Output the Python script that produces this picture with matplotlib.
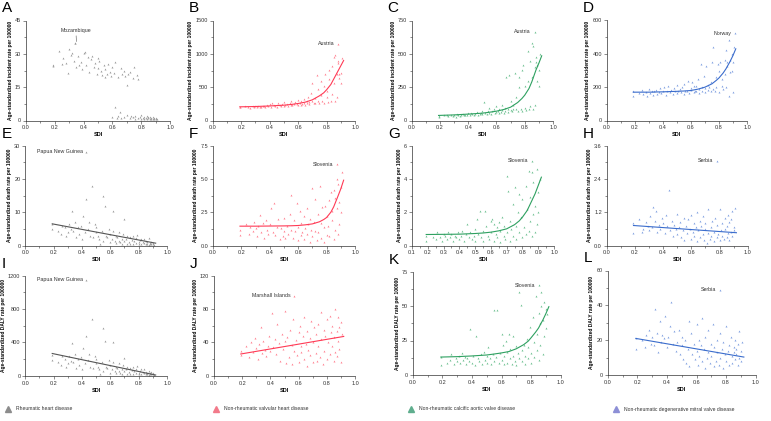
import matplotlib
matplotlib.use("Agg")
import matplotlib.pyplot as plt
from matplotlib.ticker import AutoMinorLocator
from matplotlib.lines import Line2D

plt.rcParams['font.family'] = ['Liberation Sans', 'DejaVu Sans']

# SDI of each location (shared by all panels)
sdi = [0.19, 0.19, 0.23, 0.25, 0.26, 0.28, 0.29, 0.30, 0.31, 0.32, 0.33, 0.34, 0.35, 0.36, 0.37,
       0.38, 0.39, 0.40, 0.41, 0.42, 0.43, 0.44, 0.45, 0.46, 0.47, 0.48, 0.49, 0.50, 0.50, 0.51,
       0.52, 0.53, 0.54, 0.55, 0.55, 0.56, 0.57, 0.58, 0.59, 0.60, 0.60, 0.61, 0.62, 0.62, 0.63,
       0.64, 0.64, 0.65, 0.66, 0.66, 0.67, 0.68, 0.68, 0.69, 0.70, 0.70, 0.71, 0.72, 0.72, 0.73,
       0.74, 0.74, 0.75, 0.76, 0.76, 0.77, 0.78, 0.78, 0.79, 0.80, 0.80, 0.81, 0.82, 0.82, 0.83,
       0.84, 0.84, 0.85, 0.85, 0.86, 0.86, 0.87, 0.87, 0.88, 0.88, 0.89, 0.89, 0.90, 0.90, 0.91]

# incidence
inc_rhd = [25.0, 24.5, 31.5, 25.5, 28.0, 26.0, 21.5, 32.0, 29.5, 30.5, 27.0, 35.0, 24.0, 29.0, 25.0,
           26.5, 23.0, 30.5, 31.0, 25.0, 28.5, 22.0, 27.5, 29.0, 24.0, 26.0, 21.0, 28.0, 23.5, 27.0,
           22.5, 20.5, 25.0, 19.5, 23.0, 21.0, 25.5, 22.0, 20.0, 1.5, 24.0, 21.5, 26.5, 6.0, 1.0,
           19.5, 2.0, 4.0, 23.5, 1.2, 21.0, 22.5, 1.8, 20.0, 16.0, 2.5, 21.0, 1.0, 22.0, 2.2,
           19.0, 1.5, 24.0, 0.8, 2.0, 20.5, 1.2, 18.5, 1.6, 0.9, 2.4, 1.1, 1.8, 0.6, 1.3,
           2.0, 0.7, 1.5, 1.0, 0.9, 1.7, 0.5, 1.2, 0.8, 1.4, 0.6, 1.1, 0.9, 1.3, 0.7]
inc_nrvhd = [205, 200, 215, 210, 195, 220, 205, 215, 200, 225, 210, 205, 215, 220, 200,
             230, 215, 250, 210, 270, 240, 225, 205, 260, 230, 215, 245, 220, 280, 235,
             250, 225, 270, 240, 300, 230, 255, 280, 245, 235, 310, 260, 240, 290, 250,
             265, 330, 240, 290, 260, 350, 280, 250, 420, 300, 560, 260, 340, 270, 680,
             300, 480, 260, 380, 600, 290, 520, 270, 700, 350, 440, 280, 620, 760, 300,
             820, 400, 950, 560, 290, 980, 700, 350, 900, 860, 700, 640, 720, 560, 940]
inc_cavd = [35, 30, 40, 38, 32, 45, 36, 42, 30, 48, 40, 35, 44, 50, 38,
            45, 40, 55, 42, 60, 48, 38, 52, 65, 44, 50, 58, 46, 70, 140,
            55, 48, 75, 60, 95, 52, 68, 85, 58, 62, 110, 72, 55, 90, 65,
            80, 120, 60, 95, 70, 330, 88, 65, 340, 78, 150, 70, 120, 85, 360,
            90, 180, 75, 330, 250, 88, 380, 70, 420, 95, 260, 80, 300, 520, 90,
            450, 110, 580, 330, 85, 560, 400, 120, 480, 440, 420, 300, 380, 260, 500]
inc_dmvd = [150, 175, 165, 185, 160, 170, 150, 190, 165, 180, 155, 175, 185, 160, 170,
            195, 165, 180, 200, 155, 175, 210, 170, 185, 160, 195, 175, 215, 165, 180,
            190, 170, 200, 160, 220, 180, 175, 240, 165, 195, 185, 230, 170, 205, 180,
            210, 175, 250, 190, 165, 340, 200, 180, 270, 170, 195, 330, 185, 215, 200,
            175, 230, 350, 190, 440, 180, 260, 200, 340, 170, 300, 350, 210, 250, 190,
            360, 280, 420, 200, 330, 350, 150, 480, 360, 290, 300, 400, 170, 350, 440]

# deaths
dth_rhd = [5.0, 6.5, 4.5, 3.5, 6.0, 5.5, 3.0, 4.0, 6.5, 5.0, 10.5, 4.5, 7.0, 2.5, 5.5,
           3.5, 6.0, 2.0, 9.0, 4.0, 14.0, 5.0, 7.0, 3.0, 18.0, 2.5, 6.5, 4.0, 5.5, 3.0,
           2.0, 0.5, 4.5, 15.0, 1.5, 12.0, 3.0, 2.5, 5.0, 1.0, 3.5, 2.0, 4.5, 10.5, 1.5,
           3.0, 0.8, 2.5, 1.5, 4.0, 1.0, 2.0, 0.6, 3.5, 8.0, 1.5, 2.0, 0.5, 3.0, 1.2,
           2.5, 0.4, 1.8, 3.0, 0.6, 1.5, 2.2, 0.8, 3.2, 1.0, 0.5, 1.6, 2.0, 0.4, 1.2,
           0.8, 2.0, 0.5, 1.4, 0.6, 1.0, 2.4, 0.3, 0.9, 0.5, 1.2, 0.4, 0.8, 0.6, 0.3]
dth_nrvhd = [0.8, 1.2, 1.6, 0.9, 1.4, 1.1, 1.8, 1.3, 0.7, 1.5, 2.3, 1.0, 1.7, 0.6, 1.9,
             1.2, 0.9, 1.6, 2.8, 1.0, 3.2, 0.8, 1.4, 2.0, 0.5, 1.3, 0.7, 2.1, 1.1, 0.6,
             1.5, 0.9, 2.4, 1.2, 3.8, 0.6, 1.9, 1.1, 3.2, 0.4, 1.4, 2.6, 0.8, 1.7, 1.0,
             2.2, 0.5, 1.3, 2.8, 0.9, 1.6, 0.3, 2.0, 1.2, 4.3, 0.7, 1.8, 3.5, 1.1, 0.4,
             2.4, 1.0, 4.5, 0.6, 1.7, 2.9, 0.3, 1.4, 3.0, 0.8, 2.2, 1.5, 3.4, 0.7, 4.0,
             1.9, 2.6, 0.5, 4.2, 3.6, 1.2, 5.0, 2.8, 4.6, 0.9, 3.3, 1.6, 4.4, 2.5, 5.5]
dth_cavd = [0.3, 0.6, 0.5, 0.4, 0.8, 0.5, 0.3, 0.7, 0.6, 0.4, 0.8, 0.5, 0.7, 0.3, 0.6,
            0.5, 0.8, 0.4, 0.6, 0.9, 0.3, 0.7, 1.3, 0.5, 0.8, 0.4, 0.6, 1.0, 0.3, 1.6,
            0.7, 2.1, 0.5, 0.9, 0.3, 2.1, 1.2, 0.6, 0.4, 1.5, 0.8, 1.6, 0.3, 1.3, 0.7,
            1.1, 0.5, 1.4, 0.2, 0.9, 1.7, 0.6, 1.2, 0.4, 4.2, 0.8, 3.3, 1.5, 0.3, 1.0,
            2.5, 0.6, 3.5, 1.2, 0.4, 2.0, 3.1, 0.8, 1.7, 0.5, 2.8, 1.1, 3.6, 0.7, 2.2,
            0.9, 4.5, 1.5, 2.9, 0.6, 4.4, 1.9, 3.8, 0.8, 2.4, 4.6, 1.3, 3.2, 2.0, 4.0]
dth_dmvd = [0.45, 0.8, 0.95, 0.5, 0.6, 0.85, 0.7, 0.55, 1.05, 0.65, 1.4, 0.9, 1.25, 0.5, 0.75,
            0.6, 1.0, 0.8, 0.45, 1.1, 0.7, 2.0, 0.55, 0.9, 0.35, 0.75, 0.6, 1.15, 0.4, 0.65,
            0.85, 0.3, 0.55, 1.0, 0.2, 0.7, 0.45, 0.95, 0.6, 0.25, 1.1, 0.5, 0.8, 0.35, 0.65,
            1.2, 0.15, 0.55, 0.9, 0.3, 0.7, 0.4, 1.05, 0.2, 0.6, 0.8, 0.1, 1.3, 0.45, 0.25,
            0.65, 0.35, 0.9, 0.15, 0.5, 1.0, 0.3, 0.75, 0.4, 0.2, 1.3, 0.55, 0.35, 0.8, 0.25,
            0.6, 1.0, 0.3, 0.7, 0.45, 1.1, 0.2, 0.85, 0.5, 0.95, 1.25, 0.35, 0.65, 0.55, 1.35]

# DALYs
daly_rhd = [190, 250, 170, 130, 230, 200, 110, 150, 240, 180, 390, 170, 260, 90, 200,
            130, 220, 75, 330, 150, 480, 185, 260, 110, 680, 95, 240, 150, 200, 110,
            75, 20, 165, 570, 55, 420, 110, 90, 185, 35, 130, 75, 165, 400, 55,
            110, 30, 90, 55, 150, 35, 75, 22, 130, 210, 55, 75, 18, 110, 45,
            90, 15, 65, 110, 22, 55, 80, 30, 120, 35, 18, 60, 75, 15, 45,
            30, 75, 18, 50, 22, 35, 60, 12, 30, 18, 45, 15, 28, 20, 10]
daly_nrvhd = [25, 30, 35, 22, 40, 28, 45, 33, 20, 38, 58, 27, 42, 31, 24,
              36, 48, 29, 75, 34, 44, 26, 62, 39, 18, 50, 32, 78, 41, 15,
              46, 22, 55, 37, 14, 68, 30, 43, 25, 52, 17, 60, 35, 28, 48,
              20, 70, 38, 12, 54, 31, 45, 25, 66, 16, 40, 58, 27, 50, 18,
              62, 35, 22, 76, 44, 14, 55, 30, 48, 68, 20, 40, 72, 26, 52,
              36, 60, 18, 46, 80, 28, 54, 24, 70, 42, 58, 32, 16, 64, 50]
daly_cavd = [7, 13, 9, 11, 15, 8, 12, 10, 14, 9, 16, 11, 13, 8, 12,
             10, 33, 9, 14, 7, 28, 12, 10, 15, 8, 17, 11, 9, 14, 20,
             12, 8, 15, 47, 10, 13, 47, 9, 16, 30, 11, 22, 14, 8, 25,
             17, 9, 30, 12, 19, 8, 28, 14, 10, 21, 7, 16, 60, 12, 51,
             18, 10, 22, 8, 14, 26, 12, 20, 35, 9, 16, 42, 24, 13, 57,
             30, 18, 45, 11, 38, 22, 60, 50, 15, 40, 28, 53, 34, 48, 44]
daly_dmvd = [15, 21, 20, 16, 23, 26, 18, 22, 17, 38, 24, 13, 31, 19, 23,
             21, 34, 16, 22, 28, 42, 18, 25, 14, 19, 26, 12, 22, 17, 9,
             20, 7, 15, 31, 5, 24, 12, 18, 9, 29, 14, 6, 20, 11, 17,
             33, 8, 15, 4, 22, 10, 26, 13, 7, 18, 11, 29, 5, 16, 8,
             13, 20, 6, 24, 10, 15, 4, 19, 12, 28, 8, 14, 17, 6, 22,
             11, 7, 16, 13, 9, 20, 12, 15, 6, 18, 10, 25, 14, 8, 19]

# fitted trend lines
fit_x = [0.19, 0.3, 0.4, 0.5, 0.55, 0.6, 0.65, 0.7, 0.75, 0.78, 0.8, 0.83, 0.85, 0.88, 0.9, 0.92]
fit_inc_nrvhd = [205, 210, 218, 230, 240, 255, 275, 310, 370, 415, 460, 540, 620, 740, 820, 900]
fit_inc_cavd = [38, 42, 48, 55, 62, 70, 82, 100, 135, 165, 190, 240, 290, 380, 430, 485]
fit_inc_dmvd = [170, 170, 172, 175, 177, 180, 188, 200, 220, 240, 255, 285, 310, 355, 390, 430]
fit_dth_nrvhd = [1.45, 1.45, 1.46, 1.47, 1.48, 1.5, 1.55, 1.62, 1.78, 1.95, 2.1, 2.5, 2.9, 3.7, 4.25, 4.9]
fit_dth_cavd = [0.66, 0.67, 0.68, 0.72, 0.75, 0.8, 0.88, 1.0, 1.25, 1.48, 1.7, 2.1, 2.5, 3.1, 3.6, 4.1]
fit_daly_cavd = [13, 13.3, 13.8, 14.5, 15.2, 16, 17, 19, 22, 24.5, 27, 31, 34, 40, 44.5, 49.5]
lin_x = [0.19, 0.92]
fit_dth_rhd = [6.5, 0.7]
fit_dth_dmvd = [0.72, 0.46]
fit_daly_rhd = [266, 8]
fit_daly_nrvhd = [26, 47]
fit_daly_dmvd = [21, 10.3]

# labelled locations: name, sdi, value
lab_inc_rhd = ("Mozambique", 0.34, 35.0)
lab_inc_nrvhd = ("Austria", 0.88, 1150)
lab_inc_cavd = ("Austria", 0.87, 665)
lab_inc_dmvd = ("Norway", 0.915, 525)
lab_dth_rhd = ("Papua New Guinea", 0.43, 28.2)
lab_dth_nrvhd = ("Slovenia", 0.87, 6.1)
lab_dth_cavd = ("Slovenia", 0.86, 5.1)
lab_dth_dmvd = ("Serbia", 0.78, 3.05)
lab_daly_rhd = ("Papua New Guinea", 0.43, 1150)
lab_daly_nrvhd = ("Marshall Islands", 0.57, 96)
lab_daly_cavd = ("Slovenia", 0.85, 65)
lab_daly_dmvd = ("Serbia", 0.76, 49)

diseases = ["Rheumatic heart disease", "Non-rheumatic valvular heart disease",
            "Non-rheumatic calcific aortic valve disease",
            "Non-rheumatic degenerative mitral valve disease"]
pt_colors = ["#9a9a9a", "#ff8090", "#6cc090", "#7f9fe0"]
ln_colors = ["#555555", "#ff3a55", "#2ea060", "#3a6ccc"]
leg_colors = ["#8c8c8c", "#f27a8a", "#5fae8e", "#8d8fd6"]

ylab_inc = "Age-standardized incident rate per 100000"
ylab_dth = "Age-standardized death rate per 100000"
ylab_daly = "Age-standardized DALY rate per 100000"

W, H = 771, 421
fig = plt.figure(figsize=(W / 100, H / 100), dpi=100)


def box(l, t, r, b):
    return [l / W, 1 - b / H, (r - l) / W, (b - t) / H]


panels = [
    ("A", box(26, 20.5, 170, 120.5), inc_rhd, None, None, [0, 15, 30, 45], ylab_inc, lab_inc_rhd, 0),
    ("B", box(212.7, 20.5, 355, 120.5), inc_nrvhd, fit_x, fit_inc_nrvhd, [0, 500, 1000, 1500], ylab_inc, lab_inc_nrvhd, 1),
    ("C", box(411.7, 20.5, 553, 120.5), inc_cavd, fit_x, fit_inc_cavd, [0, 250, 500, 750], ylab_inc, lab_inc_cavd, 2),
    ("D", box(606.7, 20.5, 747, 120.5), inc_dmvd, fit_x, fit_inc_dmvd, [0, 200, 400, 600], ylab_inc, lab_inc_dmvd, 3),
    ("E", box(25.3, 145.5, 167, 245.5), dth_rhd, lin_x, fit_dth_rhd, [0, 10, 20, 30], ylab_dth, lab_dth_rhd, 0),
    ("F", box(213, 145.5, 355, 245.5), dth_nrvhd, fit_x, fit_dth_nrvhd, [0.0, 2.5, 5.0, 7.5], ylab_dth, lab_dth_nrvhd, 1),
    ("G", box(412, 145.5, 554, 245.5), dth_cavd, fit_x, fit_dth_cavd, [0, 2, 4, 6], ylab_dth, lab_dth_cavd, 2),
    ("H", box(606.7, 145.5, 747.7, 245.5), dth_dmvd, lin_x, fit_dth_dmvd, [0.0, 1.2, 2.4, 3.6], ylab_dth, lab_dth_dmvd, 3),
    ("I", box(25.3, 275.5, 167, 375.7), daly_rhd, lin_x, fit_daly_rhd, [0, 400, 800, 1200], ylab_daly, lab_daly_rhd, 0),
    ("J", box(214, 275.5, 355, 375.7), daly_nrvhd, lin_x, fit_daly_nrvhd, [0, 40, 80, 120], ylab_daly, lab_daly_nrvhd, 1),
    ("K", box(412.7, 271.5, 560.7, 375), daly_cavd, fit_x, fit_daly_cavd, [0, 25, 50, 75], ylab_daly, lab_daly_cavd, 2),
    ("L", box(607.7, 270.5, 755.7, 375), daly_dmvd, lin_x, fit_daly_dmvd, [0, 20, 40, 60], ylab_daly, lab_daly_dmvd, 3),
]

for letter, pos, yv, fx, fy, yt, ylab, lab, ci in panels:
    ax = fig.add_axes(pos)
    ax.scatter(sdi, yv, marker="^", s=2.0, color=pt_colors[ci], linewidths=0, zorder=2)
    name, lx, ly = lab
    ax.scatter([lx], [ly], marker="^", s=2.0, color=pt_colors[ci], linewidths=0, zorder=2)
    if fx is not None:
        ax.plot(fx, fy, color=ln_colors[ci], lw=0.8, zorder=3)
    if letter == "A":
        ax.annotate(name, xy=(lx + 0.01, ly + 0.5), xytext=(0.24, 40.5), fontsize=3.8,
                    color="#333333", ha="left", va="center",
                    arrowprops=dict(arrowstyle="-", lw=0.4, color="#555555", shrinkA=0, shrinkB=0))
    else:
        ax.text(lx - 0.025, ly, name, fontsize=3.8, color="#333333", ha="right", va="center")

    if letter == "G":
        ax.set_xlim(0.1, 1.0)
        ax.set_xticks([0.1 * i for i in range(1, 11)])
        ax.set_xticklabels(["%.1f" % (0.1 * i) for i in range(1, 11)])
    else:
        ax.set_xlim(0, 1.0)
        ax.set_xticks([0, 0.2, 0.4, 0.6, 0.8, 1.0])
        ax.set_xticklabels(["0.0", "0.2", "0.4", "0.6", "0.8", "1.0"])
    ax.xaxis.set_minor_locator(AutoMinorLocator(2))
    ax.set_ylim(yt[0], yt[-1])
    ax.set_yticks(yt)
    if isinstance(yt[1], float):
        ax.set_yticklabels(["%.1f" % v for v in yt])
    else:
        ax.set_yticklabels([str(v) for v in yt])
    ax.yaxis.set_minor_locator(AutoMinorLocator(2))

    for s in ["top", "right"]:
        ax.spines[s].set_visible(False)
    for s in ["left", "bottom"]:
        ax.spines[s].set_linewidth(0.5)
        ax.spines[s].set_color("#333333")
    ax.tick_params(which="major", length=2, width=0.4, labelsize=4, pad=1.5, colors="#333333")
    ax.tick_params(which="minor", length=1.2, width=0.4, colors="#333333")
    ax.set_xlabel("SDI", fontsize=4, fontweight="bold", labelpad=1.5)
    ax.set_ylabel(ylab, fontsize=3.5, fontweight="bold", labelpad=1.5)
    ax.set_facecolor("none")

    fig.text(pos[0] - 24 / W, pos[1] + pos[3] + 19 / H, letter, fontsize=11,
             ha="left", va="top")

# legend row
leg_x = [8, 216, 411, 616]
for i, name in enumerate(diseases):
    x = leg_x[i] / W
    y = 1 - 409 / H
    fig.add_artist(Line2D([x], [y], marker="^", markersize=4, color=leg_colors[i],
                          linestyle="none", transform=fig.transFigure))
    fig.text(x + 8 / W, y, name, fontsize=3.6, color="#333333", va="center", ha="left")

fig.savefig("out.png", dpi=100)
